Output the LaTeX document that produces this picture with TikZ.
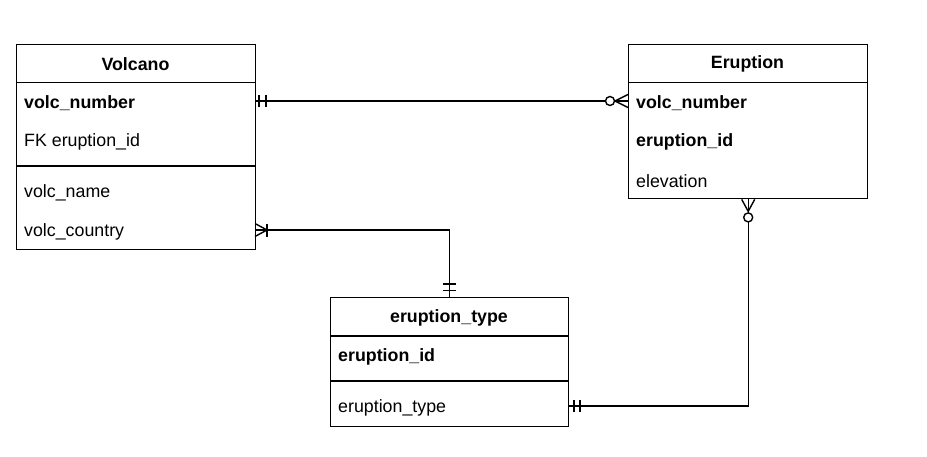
\documentclass[tikz,border=0pt]{standalone}
\usepackage{fontspec}
\setmainfont{Liberation Sans}
\begin{document}
\begin{tikzpicture}[x=1pt,y=-1pt,
  tbl/.style={draw,line width=1.4pt,inner sep=0pt,anchor=north west},
  hdr/.style={font=\fontsize{17.8}{20}\selectfont\bfseries,inner sep=0pt},
  rowb/.style={font=\fontsize{17.8}{20}\selectfont\bfseries,anchor=west,inner sep=0pt},
  rowr/.style={font=\fontsize{17.8}{20}\selectfont,anchor=west,inner sep=0pt},
  sep/.style={line width=1.4pt},
  conn/.style={line width=1.4pt},
  mk/.style={line width=1.4pt}]
\useasboundingbox (0,0) rectangle (927,456);
\fill[white] (0,0) rectangle (927,456);
% Volcano
\node[tbl,minimum width=239pt,minimum height=205pt] (volcano) at (16,44) {};
\node[hdr] (vh) at (135.5,64) {Volcano};
\draw[sep] (16,82.5) -- (255,82.5);
\draw[sep] (16,166) -- (255,166);
\node[rowb] (vnum) at (24,103) {volc\_number};
\node[rowr] (vfk) at (24,142) {FK eruption\_id};
\node[rowr] (vname) at (24,193) {volc\_name};
\node[rowr] (vcountry) at (24,232) {volc\_country};
% Eruption
\node[tbl,minimum width=239pt,minimum height=154pt] (eruption) at (628,44) {};
\node[hdr] (eh) at (747.5,64) {Eruption};
\draw[sep] (628,82.5) -- (867,82.5);
\node[rowb] (enum) at (636,103) {volc\_number};
\node[rowb] (eid) at (636,142) {eruption\_id};
\node[rowr] (eelev) at (636,181) {elevation};
% eruption_type
\node[tbl,minimum width=238pt,minimum height=129pt] (etype) at (330,297) {};
\node[hdr] (th) at (449,318) {eruption\_type};
\draw[sep] (330,336) -- (568,336);
\draw[sep] (330,381) -- (568,381);
\node[rowb] (tid) at (338,357) {eruption\_id};
\node[rowr] (ttype) at (338,408) {eruption\_type};
% connector 1: volc_number -- Eruption
\coordinate (c1a) at (255,101);
\coordinate (c1b) at (eruption.west |- c1a);
\draw[conn] (c1a) -- ([xshift=-22.5pt]c1b);
\draw[mk] ([xshift=4pt]c1a) ++(0,-6) -- ++(0,12);
\draw[mk] ([xshift=11pt]c1a) ++(0,-6) -- ++(0,12);
\draw[mk] ([xshift=-18pt]c1b) circle (4.5);
\draw[mk] ([xshift=-13.5pt]c1b) -- (c1b);
\draw[mk] ([xshift=-13pt]c1b) -- ++(13,-6.5);
\draw[mk] ([xshift=-13pt]c1b) -- ++(13,6.5);
% connector 2: volc_country -- eruption_type top
\coordinate (c2a) at (255,230);
\coordinate (c2b) at (etype.north);
\draw[conn] (c2a) -- (c2a -| c2b) -- (c2b);
\draw[mk] ([xshift=12pt]c2a) -- ++(-12,-6.5);
\draw[mk] ([xshift=12pt]c2a) -- ++(-12,6.5);
\draw[mk] ([xshift=12pt]c2a) ++(0,-6.5) -- ++(0,13);
\draw[mk] ([yshift=13pt]c2b) ++(-6.5,0) -- ++(13,0);
\draw[mk] ([yshift=6.5pt]c2b) ++(-6.5,0) -- ++(13,0);
% connector 3: Eruption bottom -- eruption_type row
\coordinate (c3a) at (eruption.south);
\coordinate (c3b) at (568,406);
\draw[conn] ([yshift=-22.5pt]c3a) -- (c3a |- c3b) -- (c3b);
\draw[mk] ([yshift=-12pt]c3a) -- ++(-6.5,-12);
\draw[mk] ([yshift=-12pt]c3a) -- ++(6.5,-12);
\draw[mk] ([yshift=-13.5pt]c3a) -- (c3a);
\draw[mk] ([yshift=-18pt]c3a) circle (4.5);
\draw[mk] ([xshift=6pt]c3b) ++(0,-6) -- ++(0,12);
\draw[mk] ([xshift=12pt]c3b) ++(0,-6) -- ++(0,12);
\end{tikzpicture}
\end{document}
